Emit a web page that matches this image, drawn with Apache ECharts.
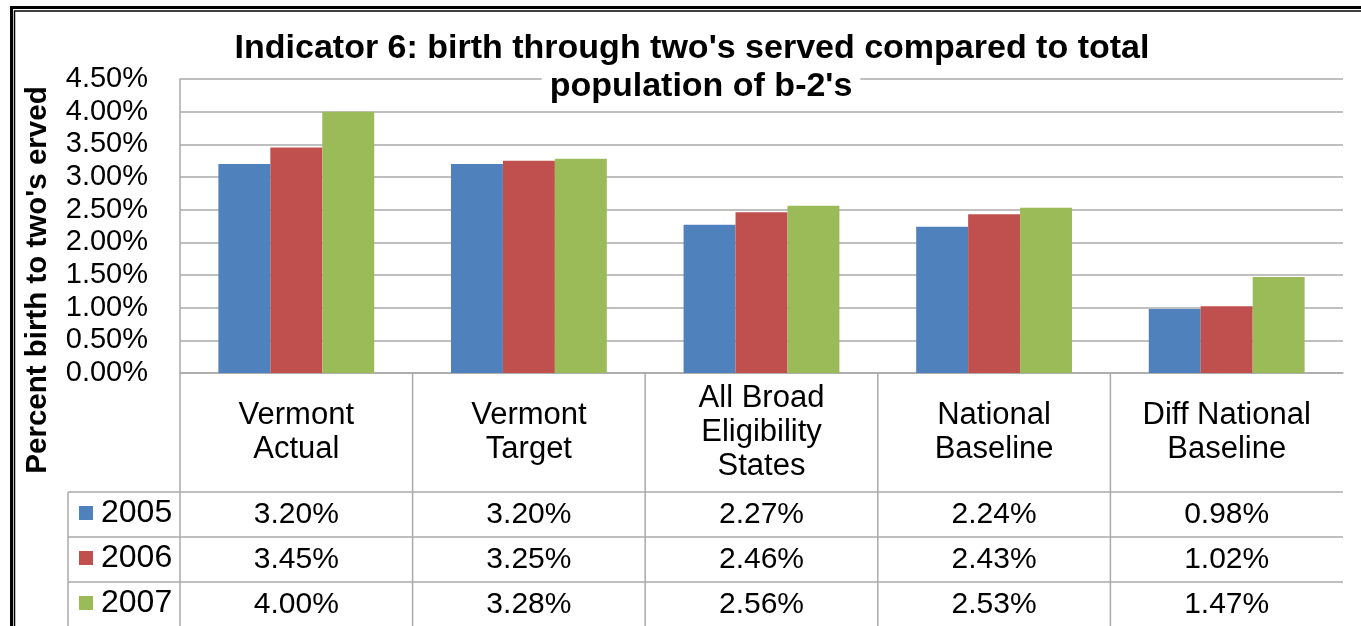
<!DOCTYPE html>
<html>
<head>
<meta charset="utf-8">
<script src="https://cdn.jsdelivr.net/npm/echarts@6/dist/echarts.min.js"></script>
<style>
  html, body { margin: 0; padding: 0; background: #fff; }
  #main { width: 1361px; height: 626px; }
</style>
</head>
<body>
<div id="main"></div>
<script>
// data
const categories = ['Vermont\nActual', 'Vermont\nTarget', 'All Broad\nEligibility\nStates', 'National\nBaseline', 'Diff National\nBaseline'];
const years = ['2005', '2006', '2007'];
const v2005 = [3.20, 3.20, 2.27, 2.24, 0.98];
const v2006 = [3.45, 3.25, 2.46, 2.43, 1.02];
const v2007 = [4.00, 3.28, 2.56, 2.53, 1.47];
const colors = ['#4F81BD', '#C0504D', '#9BBB59'];
const yMin = 0, yMax = 4.5, yStep = 0.5;

// layout
const FONT = "'Liberation Sans', Arial, sans-serif";
const W = 1361, H = 626;
const gridL = 180, gridR = 18, gridT = 79, gridB = 373;
const labelH = 119, rowH = 45, tableL = 68;
const lineCol = '#aaaaaa';

const chart = echarts.init(document.getElementById('main'));

const pct = v => v.toFixed(2) + '%';

// data table rows drawn as extra category axes under the plot
const rowAxis = (vals, k) => ({
  type: 'category',
  position: 'bottom',
  offset: labelH + k * rowH,
  data: vals.map(pct),
  axisLine: { show: false },
  axisTick: { show: false },
  axisLabel: { interval: 0, margin: 23, verticalAlign: 'middle', fontSize: 30, color: '#000', fontFamily: FONT }
});

// table borders
const catW = (W - gridR - gridL) / categories.length;
const lines = [];
const line = (x1, y1, x2, y2) => lines.push({
  type: 'line', silent: true,
  shape: { x1, y1, x2, y2 },
  style: { stroke: lineCol, lineWidth: 1.5 }
});
for (let r = 0; r < years.length; r++) {
  const y = gridB + labelH + r * rowH;
  line(tableL, y, W - gridR, y);
}
line(gridL, gridB, gridL, H);
line(tableL, gridB + labelH, tableL, H);
for (let k = 1; k < categories.length; k++) {
  line(gridL + k * catW, gridB, gridL + k * catW, H);
}

const titleStyle = { fontSize: 34, fontWeight: 'bold', color: '#000', fontFamily: FONT, lineHeight: 38 };

const option = {
  animation: false,
  backgroundColor: '#fff',
  title: [
    {
      text: "Indicator 6: birth through two's served compared to total",
      left: 692, top: 30, textAlign: 'center', padding: 0,
      textStyle: titleStyle
    },
    {
      text: "population of b-2's",
      left: 693, top: 68, textAlign: 'center', padding: [0, 8],
      backgroundColor: '#fff',
      textStyle: titleStyle
    }
  ],
  legend: {
    data: years,
    orient: 'vertical',
    left: 79, top: 497,
    padding: 0,
    icon: 'rect',
    itemWidth: 14, itemHeight: 14, itemGap: 13,
    selectedMode: false,
    textStyle: { fontSize: 32, lineHeight: 32, color: '#000', fontFamily: FONT, padding: [0, 0, 0, 3] }
  },
  grid: { left: gridL, right: gridR, top: gridT, height: gridB - gridT },
  xAxis: [
    {
      type: 'category',
      position: 'bottom',
      data: categories,
      axisLine: { lineStyle: { color: lineCol, width: 1.5 } },
      axisTick: { show: false },
      axisLabel: { interval: 0, margin: 59, verticalAlign: 'middle', fontSize: 31, lineHeight: 34, color: '#000', fontFamily: FONT }
    },
    rowAxis(v2005, 0),
    rowAxis(v2006, 1),
    rowAxis(v2007, 2)
  ],
  yAxis: {
    type: 'value',
    min: yMin, max: yMax, interval: yStep,
    axisLine: { show: true, lineStyle: { color: lineCol, width: 1.5 } },
    axisTick: { show: false },
    splitLine: { lineStyle: { color: lineCol, width: 1.5 } },
    axisLabel: { margin: 32, fontSize: 29, color: '#000', fontFamily: FONT, formatter: pct, padding: [5, 0, 0, 0] }
  },
  series: [v2005, v2006, v2007].map((vals, i) => ({
    name: years[i],
    type: 'bar',
    xAxisIndex: 0,
    data: vals,
    barGap: '0%',
    barCategoryGap: '33%',
    itemStyle: { color: colors[i] }
  })),
  graphic: [
    // double black frame
    { type: 'rect', silent: true, shape: { x: 11.5, y: 7.5, width: W + 50, height: H + 50 }, style: { fill: 'none', stroke: '#000', lineWidth: 3 } },
    { type: 'rect', silent: true, shape: { x: 14.5, y: 11, width: W + 50, height: H + 50 }, style: { fill: 'none', stroke: '#000', lineWidth: 1.5 } },
    {
      type: 'text', silent: true,
      x: 38, y: 280, rotation: Math.PI / 2,
      style: {
        text: "Percent birth to two's erved",
        font: 'bold 29.5px ' + FONT,
        fill: '#000',
        align: 'center', verticalAlign: 'middle'
      }
    }
  ].concat(lines)
};

chart.setOption(option);
</script>
</body>
</html>
